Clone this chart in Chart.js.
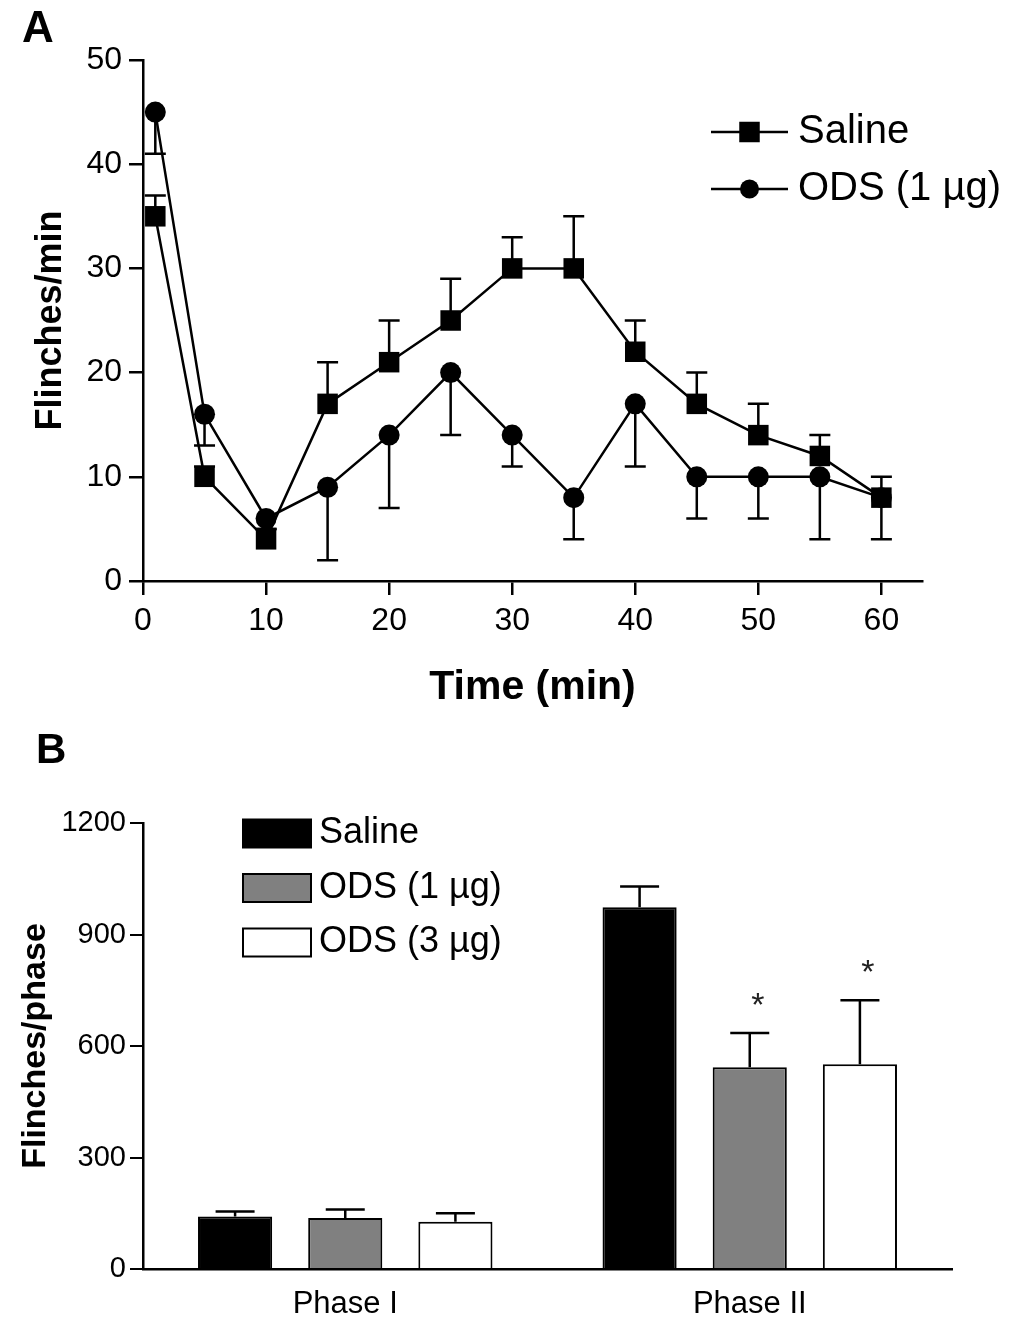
<!DOCTYPE html>
<html>
<head>
<meta charset="utf-8">
<script src="https://cdn.jsdelivr.net/npm/chart.js@4.4.1/dist/chart.umd.min.js"></script>
<style>
  html, body { margin: 0; padding: 0; background: #fff; }
  canvas { display: block; }
</style>
</head>
<body>
<canvas id="chartA" width="1028" height="720"></canvas>
<canvas id="chartB" width="1028" height="603"></canvas>
<script>
'use strict';

var FONT = '"Liberation Sans", Arial, Helvetica, sans-serif';

// Panel A - flinches per minute over time
var timePoints = [1, 5, 10, 15, 20, 25, 30, 35, 40, 45, 50, 55, 60];
var salineMin = [35, 10, 4, 17, 21, 25, 30, 30, 22, 17, 14, 12, 8];
var salineMinErr = [2, 1, 1, 4, 4, 4, 3, 5, 3, 3, 3, 2, 2];
var odsMin = [45, 16, 6, 9, 14, 20, 14, 8, 17, 10, 10, 10, 8];
var odsMinErr = [4, 3, 1, 7, 7, 6, 3, 4, 6, 4, 4, 6, 4];
var timeTicks = [0, 10, 20, 30, 40, 50, 60];

// Panel B - flinches per phase
var phases = ['Phase I', 'Phase II'];
var salinePhase = [141, 973];
var salinePhaseErr = [14, 56];
var ods1Phase = [137, 543];
var ods1PhaseErr = [23, 92];
var ods3Phase = [127, 551];
var ods3PhaseErr = [23, 172];
var ods1Stars = [false, true];
var ods3Stars = [false, true];

Chart.defaults.font.family = FONT;
Chart.defaults.color = '#000';

function toPoints(xs, ys) {
  return xs.map(function (x, i) { return { x: x, y: ys[i] }; });
}

// plain numbers on the axes (no thousands separator)
function plainTick(value) {
  return String(value);
}

// error bars (+ optional significance stars), drawn from the y scale
var errorBars = {
  id: 'errorBars',
  afterDatasetsDraw: function (chart, args, opts) {
    var ctx = chart.ctx;
    var yScale = chart.scales.y;
    ctx.save();
    ctx.strokeStyle = '#000';
    ctx.lineWidth = opts.width || 2;
    chart.data.datasets.forEach(function (ds, i) {
      if (!ds.errors) return;
      var meta = chart.getDatasetMeta(i);
      meta.data.forEach(function (el, j) {
        var d = ds.data[j];
        var v = typeof d === 'object' ? d.y : d;
        var err = ds.errors[j];
        var yEnd = yScale.getPixelForValue(v + (ds.errorDir || 1) * err);
        ctx.beginPath();
        ctx.moveTo(el.x, el.y);
        ctx.lineTo(el.x, yEnd);
        ctx.moveTo(el.x - opts.cap, yEnd);
        ctx.lineTo(el.x + opts.cap, yEnd);
        ctx.stroke();
        if (ds.stars && ds.stars[j]) {
          ctx.fillStyle = '#222';
          ctx.font = '34px ' + FONT;
          ctx.textAlign = 'center';
          ctx.textBaseline = 'alphabetic';
          ctx.fillText('*', el.x + 8, yEnd - 17);
        }
      });
    });
    ctx.restore();
  }
};

// legend drawn inside the plot, line + marker style or box style
var panelLegend = {
  id: 'panelLegend',
  afterDraw: function (chart, args, opts) {
    var ctx = chart.ctx;
    ctx.save();
    ctx.font = opts.fontSize + 'px ' + FONT;
    ctx.textBaseline = 'middle';
    ctx.textAlign = 'left';
    chart.data.datasets.forEach(function (ds, i) {
      var y = opts.y + i * opts.rowGap;
      var x = opts.x;
      if (opts.kind === 'line') {
        ctx.strokeStyle = '#000';
        ctx.lineWidth = ds.borderWidth;
        ctx.beginPath();
        ctx.moveTo(x, y);
        ctx.lineTo(x + opts.symbolWidth, y);
        ctx.stroke();
        var cx = x + opts.symbolWidth / 2;
        ctx.fillStyle = ds.pointBackgroundColor;
        ctx.beginPath();
        if (ds.pointStyle === 'rect') {
          var s = ds.pointRadius * Math.SQRT1_2;
          ctx.rect(cx - s, y - s, 2 * s, 2 * s);
        } else {
          ctx.arc(cx, y, ds.pointRadius - 1, 0, Math.PI * 2);
        }
        ctx.fill();
      } else {
        ctx.fillStyle = ds.backgroundColor;
        ctx.fillRect(x, y - opts.boxHeight / 2, opts.symbolWidth, opts.boxHeight);
        ctx.strokeStyle = ds.borderColor;
        ctx.lineWidth = ds.borderWidth;
        ctx.strokeRect(x, y - opts.boxHeight / 2, opts.symbolWidth, opts.boxHeight);
      }
      ctx.fillStyle = '#000';
      ctx.fillText(ds.label, x + opts.symbolWidth + opts.gap, y);
    });
    // panel letter
    ctx.font = 'bold ' + opts.letterSize + 'px ' + FONT;
    ctx.textBaseline = 'alphabetic';
    ctx.fillText(opts.letter, opts.letterX, opts.letterY);
    ctx.restore();
  }
};

var chartA = new Chart(document.getElementById('chartA'), {
  type: 'line',
  data: {
    datasets: [{
      label: 'Saline',
      data: toPoints(timePoints, salineMin),
      errors: salineMinErr,
      errorDir: 1,
      borderColor: '#000',
      borderWidth: 2.5,
      pointStyle: 'rect',
      pointRadius: 14.5,
      pointBackgroundColor: '#000',
      pointBorderWidth: 0,
      tension: 0
    }, {
      label: 'ODS (1 µg)',
      data: toPoints(timePoints, odsMin),
      errors: odsMinErr,
      errorDir: -1,
      borderColor: '#000',
      borderWidth: 2.5,
      pointStyle: 'circle',
      pointRadius: 10.5,
      pointBackgroundColor: '#000',
      pointBorderWidth: 0,
      tension: 0
    }]
  },
  options: {
    responsive: false,
    animation: false,
    devicePixelRatio: 1,
    layout: { padding: { top: 60, right: 106, left: 0, bottom: 0 } },
    scales: {
      x: {
        type: 'linear',
        min: 0,
        max: 63.3,
        afterBuildTicks: function (s) {
          s.ticks = timeTicks.map(function (v) { return { value: v }; });
        },
        ticks: { font: { size: 32 }, padding: 7, color: '#000', callback: plainTick },
        grid: { drawOnChartArea: false, tickLength: 14, color: '#000', lineWidth: 2.5 },
        border: { color: '#000', width: 2.5 },
        title: {
          display: true, text: 'Time (min)', color: '#000',
          font: { size: 41, weight: 'bold' }, padding: { top: 0, bottom: 8 }
        },
        afterFit: function (s) { s.height = 139; }
      },
      y: {
        min: 0,
        max: 50,
        ticks: { stepSize: 10, font: { size: 32 }, padding: 7, color: '#000', callback: plainTick },
        grid: { drawOnChartArea: false, tickLength: 14, color: '#000', lineWidth: 2.5 },
        border: { color: '#000', width: 2.5 },
        title: {
          display: true, text: 'Flinches/min', color: '#000',
          font: { size: 36, weight: 'bold' }, padding: { top: 29, bottom: 0 }
        },
        afterFit: function (s) { s.width = 143; }
      }
    },
    plugins: {
      legend: { display: false },
      tooltip: { enabled: false },
      errorBars: { cap: 10.5, width: 2.5 },
      panelLegend: {
        kind: 'line', x: 711, y: 132, rowGap: 57, symbolWidth: 77, gap: 10, fontSize: 40,
        letter: 'A', letterSize: 44, letterX: 22, letterY: 42
      }
    }
  },
  plugins: [errorBars, panelLegend]
});

var chartB = new Chart(document.getElementById('chartB'), {
  type: 'bar',
  data: {
    labels: phases,
    datasets: [{
      label: 'Saline',
      data: salinePhase,
      errors: salinePhaseErr,
      backgroundColor: '#000',
      borderColor: '#000',
      borderWidth: 2
    }, {
      label: 'ODS (1 µg)',
      data: ods1Phase,
      errors: ods1PhaseErr,
      stars: ods1Stars,
      backgroundColor: '#808080',
      borderColor: '#000',
      borderWidth: 2
    }, {
      label: 'ODS (3 µg)',
      data: ods3Phase,
      errors: ods3PhaseErr,
      stars: ods3Stars,
      backgroundColor: '#fff',
      borderColor: '#000',
      borderWidth: 2
    }]
  },
  options: {
    responsive: false,
    animation: false,
    devicePixelRatio: 1,
    datasets: { bar: { categoryPercentage: 0.817, barPercentage: 0.673 } },
    layout: { padding: { top: 103, right: 76, left: 0, bottom: 0 } },
    scales: {
      x: {
        ticks: { font: { size: 31 }, padding: 17, color: '#000' },
        grid: { display: false, drawTicks: false },
        border: { color: '#000', width: 2.5 },
        afterFit: function (s) { s.height = 54; }
      },
      y: {
        min: 0,
        max: 1200,
        ticks: { stepSize: 300, font: { size: 29 }, padding: 4, color: '#000', callback: plainTick },
        grid: { drawOnChartArea: false, tickLength: 13, color: '#000', lineWidth: 2 },
        border: { color: '#000', width: 2.5 },
        title: {
          display: true, text: 'Flinches/phase', color: '#000',
          font: { size: 34, weight: 'bold' }, padding: { top: 15, bottom: 0 }
        },
        afterFit: function (s) { s.width = 143; }
      }
    },
    plugins: {
      legend: { display: false },
      tooltip: { enabled: false },
      errorBars: { cap: 19.5, width: 2.5 },
      panelLegend: {
        kind: 'box', x: 243, y: 113.5, rowGap: 54.5, symbolWidth: 68, boxHeight: 28, gap: 8, fontSize: 36,
        letter: 'B', letterSize: 42, letterX: 36, letterY: 43
      }
    }
  },
  plugins: [errorBars, panelLegend]
});
</script>
</body>
</html>
